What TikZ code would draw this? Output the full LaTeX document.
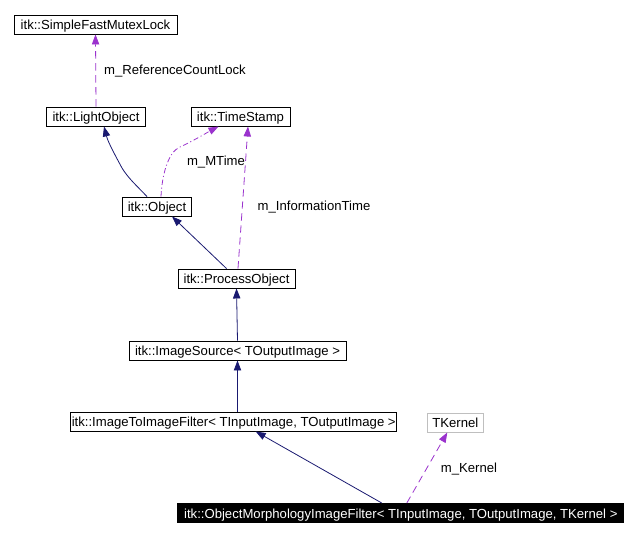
\documentclass[tikz,border=0pt]{standalone}
\usepackage{fontspec}
\setmainfont{Liberation Sans}
\usetikzlibrary{arrows.meta,calc}
\definecolor{inhcol}{HTML}{191970}
\definecolor{usecol}{HTML}{9A32CD}
\definecolor{graybox}{HTML}{BFBFBF}
\tikzset{
  cls/.style={draw=black,line width=0.7pt,fill=white,inner sep=0pt,minimum height=14.25pt,text height=8.6pt,text depth=0.8pt,font=\fontsize{9.85}{12}\selectfont},
  inh/.style={draw=inhcol,line width=0.6pt,-{Triangle[length=7.5pt,width=5.5pt]}},
  use/.style={draw=usecol,line width=0.6pt,dash pattern=on 5.5pt off 3.5pt,-{Triangle[length=7.5pt,width=5.5pt]}},
  usedd/.style={draw=usecol,line width=0.6pt,dash pattern=on 4pt off 2pt on 0.8pt off 2pt,-{Triangle[length=7.5pt,width=5.5pt]}},
  lbl/.style={font=\fontsize{9.85}{12}\selectfont,inner sep=0pt,anchor=center}
}
\begin{document}
\begin{tikzpicture}[x=0.75pt,y=-0.75pt]
\useasboundingbox (0,0) rectangle (637,537);
\node[cls,minimum width=163*0.75pt] (sfml) at (95.5,24.5) {itk::SimpleFastMutexLock};
\node[cls,minimum width=99*0.75pt] (lo) at (96,116.5) {itk::LightObject};
\node[cls,minimum width=99*0.75pt] (ts) at (240.5,116.5) {itk::TimeStamp};
\node[cls,minimum width=69*0.75pt] (obj) at (157,206.5) {itk::Object};
\node[cls,minimum width=117*0.75pt] (po) at (236.5,278.5) {itk::ProcessObject};
\node[cls,minimum width=217*0.75pt] (is) at (237.5,350.5) {itk::ImageSource< TOutputImage >};
\node[cls,minimum width=326*0.75pt] (i2i) at (233.7,421.5) {itk::ImageToImageFilter< TInputImage, TOutputImage >};
\node[cls,draw=graybox,minimum width=56*0.75pt] (tk) at (455.3,422.5) {TKernel};
\node[cls,fill=black,text=white,minimum width=446*0.75pt] (omf) at (400.8,513) {itk::ObjectMorphologyImageFilter< TInputImage, TOutputImage, TKernel >};

\draw[use] (lo.north) -- (sfml.south);
\node[lbl] (l1) at (175,71) {m\_ReferenceCountLock};

\draw[inh] ($(obj.north)+(-10,0)$) .. controls (137,186) and (128,178) .. (122,168) .. controls (115,155) and (108,142) .. ($(lo.south)+(8,0)$);
\draw[usedd] ($(obj.north)+(4,0)$) .. controls (162,175) and (168,152) .. (180,147) .. controls (195,140) and (208,132) .. ($(ts.south)+(-22,0)$);
\node[lbl] (l2) at (216,162) {m\_MTime};

\draw[inh] ($(po.north)+(-10,0)$) -- ($(obj.south)+(15,0)$);
\draw[use] ($(po.north)+(1.5,0)$) -- ($(ts.south)+(7.5,0)$);
\node[lbl] (l3) at (314,207) {m\_InformationTime};

\draw[inh] (is.north) -- (po.south);
\draw[inh] (i2i.north -| is.north) -- (is.south);
\draw[inh] ($(omf.north)+(-19,0)$) -- ($(i2i.south)+(22,0)$);
\draw[use] ($(omf.north)+(6,0)$) -- ($(tk.south)+(-8,0)$);
\node[lbl] (l4) at (469,469) {m\_Kernel};
\end{tikzpicture}
\end{document}
